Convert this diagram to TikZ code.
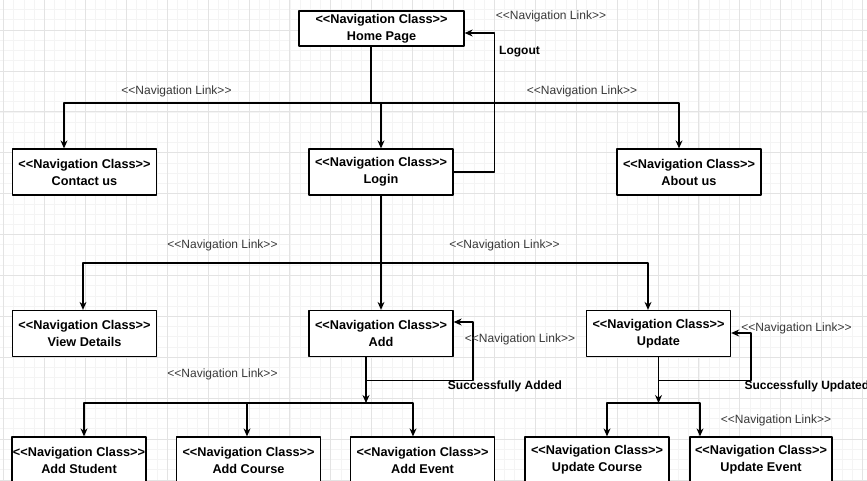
\documentclass[tikz,border=0pt]{standalone}
\usepackage{fontspec}
\setmainfont{Liberation Sans}
\usetikzlibrary{arrows.meta}
\begin{document}
\begin{tikzpicture}[x=1pt, y=-1pt, line join=round, >={Stealth[length=8pt,width=7pt]}, line width=1.1pt,
	navbox/.style={draw, line width=1.3pt, fill=white, minimum width=144, minimum height=46, align=center, inner sep=1pt, font=\fontsize{12.7}{17}\selectfont\bfseries},
	navlink/.style={font=\fontsize{12}{14}\selectfont, text=black!78, inner sep=0pt},
	navnote/.style={font=\fontsize{12}{14}\selectfont\bfseries, inner sep=0pt}]
	\def\W{867} \def\H{480} % Khung
	\def\gs{10.225}
	\def\NC{<{}<Navigation Class>{}>} \def\NL{<{}<Navigation Link>{}>}
	\useasboundingbox (0,0) rectangle (\W,\H);
	\clip (0,0) rectangle (\W,\H);
	\fill[white] (0,0) rectangle (\W,\H);
	% Luoi nen
	\foreach \i in {0,...,85} \draw[gray!9, line width=0.4pt] (\i*\gs+3.4,0) -- (\i*\gs+3.4,\H);
	\foreach \i in {0,...,48} \draw[gray!9, line width=0.4pt] (0,\i*\gs-11) -- (\W,\i*\gs-11);
	\foreach \i in {0,...,21} \draw[gray!22, line width=0.5pt] (\i*4*\gs+3.4,0) -- (\i*4*\gs+3.4,\H);
	\foreach \i in {0,...,12} \draw[gray!22, line width=0.5pt] (0,\i*4*\gs-11) -- (\W,\i*4*\gs-11);
	% Cac lop
	\node[navbox, minimum width=165, minimum height=35] (home) at (381.5,28.5) {\NC\\Home Page};
	\node[navbox] (contact) at (84.5,172) {\NC\\Contact us};
	\node[navbox] (login) at (381,172) {\NC\\Login};
	\node[navbox] (about) at (689,172) {\NC\\About us};
	\node[navbox] (view) at (84.5,333.5) {\NC\\View Details};
	\node[navbox] (add) at (381,333.5) {\NC\\Add};
	\node[navbox] (update) at (658.5,333.5) {\NC\\Update};
	\node[navbox, minimum width=132] (addstudent) at (79,460) {\NC\\Add Student};
	\node[navbox] (addcourse) at (248.5,460) {\NC\\Add Course};
	\node[navbox] (addevent) at (422.5,460) {\NC\\Add Event};
	\node[navbox] (updcourse) at (597,460) {\NC\\Update Course};
	\node[navbox, minimum width=142] (updevent) at (761,460) {\NC\\Update Event};
	% Lien ket
	\coordinate (hubA) at (371,103);
	\coordinate (hubB) at (381,263);
	\coordinate (hubC) at (366,403);
	\coordinate (hubD) at (658.5,403);
	\draw ([xshift=-10.5]home.south) -- (hubA);
	\draw[->] (hubA) -| ([xshift=-20.5]contact.north);
	\draw[->] (hubA) -| (login.north);
	\draw[->] (hubA) -| ([xshift=-10]about.north);
	\draw[->] (login.east) -- ++(41,0) |- ([yshift=-4.5]home.east);
	\draw[->] (login.south) -- (add.north);
	\draw[->] (hubB) -| ([xshift=-1.5]view.north);
	\draw[->] (hubB) -| ([xshift=-10.5]update.north);
	\draw[->] ([xshift=-15]add.south) -- (hubC);
	\draw[->] (hubC) -| ([xshift=5]addstudent.north);
	\draw[->] (hubC) -| ([xshift=-1.5]addcourse.north);
	\draw[->] (hubC) -| ([xshift=-9.5]addevent.north);
	\draw[->] ([xshift=-15,yshift=-23]add.south) -- ++(107,0) |- ([yshift=11.5]add.east);
	\draw[->] (update.south) -- (hubD);
	\draw[->] (hubD) -| ([xshift=10]updcourse.north);
	\draw[->] (hubD) -| ([xshift=-61]updevent.north);
	\draw[->] ([yshift=-23]update.south) -- ++(92.5,0) |- ([yshift=0.5]update.east);
	% Nhan
	\node[navlink] (lkhome) at (551,16) {\NL};
	\node[navnote] (logout) at (519.5,52) {Logout};
	\node[navlink] (lkleft) at (176.5,91) {\NL};
	\node[navlink] (lkright) at (582,91) {\NL};
	\node[navlink] (lkview) at (222.5,245) {\NL};
	\node[navlink] (lkupdate) at (504.5,245) {\NL};
	\node[navlink] (lkadd) at (520,339) {\NL};
	\node[navnote] (okadd) at (505,386) {Successfully Added};
	\node[navlink] (lkupd) at (796.5,328) {\NL};
	\node[navnote, anchor=west] (okupd) at (744,386) {Successfully Updated};
	\node[navlink] (lkupdsub) at (776,420) {\NL};
	\node[navlink] (lkaddsub) at (222.5,374) {\NL};
\end{tikzpicture}
\end{document}
